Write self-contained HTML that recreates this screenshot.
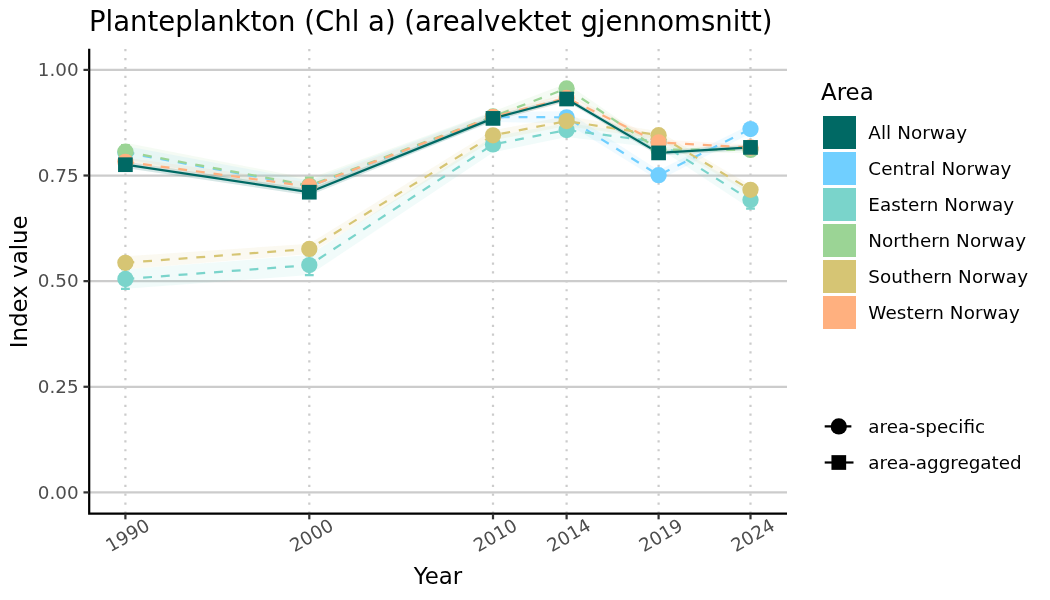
<!DOCTYPE html>
<html lang="en"><head><meta charset="utf-8">
<title>Planteplankton (Chl a) (arealvektet gjennomsnitt)</title>
<style>
html,body{margin:0;padding:0;background:#fff;}
body{width:1050px;height:600px;overflow:hidden;}
svg{display:block;}
text{font-family:"DejaVu Sans","Liberation Sans",sans-serif;}
.tick{font-size:18.33px;fill:#4d4d4d;}
.leg{font-size:18.33px;fill:#000;}
.ls{letter-spacing:0.07px;}
.axt{font-size:22.9px;fill:#000;}
.ttl{font-size:27.5px;fill:#000;}
</style></head><body>
<svg width="1050" height="600" viewBox="0 0 1050 600">
<rect x="0" y="0" width="1050" height="600" fill="#ffffff"/>
<g id="grid">
<line x1="125.40" y1="513.60" x2="125.40" y2="48.70" stroke="#cccccc" stroke-width="2.223" stroke-dasharray="2.22 6.67" stroke-dashoffset="0"/>
<line x1="309.30" y1="513.60" x2="309.30" y2="48.70" stroke="#cccccc" stroke-width="2.223" stroke-dasharray="2.22 6.67" stroke-dashoffset="0"/>
<line x1="493.00" y1="513.60" x2="493.00" y2="48.70" stroke="#cccccc" stroke-width="2.223" stroke-dasharray="2.22 6.67" stroke-dashoffset="0"/>
<line x1="566.60" y1="513.60" x2="566.60" y2="48.70" stroke="#cccccc" stroke-width="2.223" stroke-dasharray="2.22 6.67" stroke-dashoffset="0"/>
<line x1="658.60" y1="513.60" x2="658.60" y2="48.70" stroke="#cccccc" stroke-width="2.223" stroke-dasharray="2.22 6.67" stroke-dashoffset="0"/>
<line x1="750.50" y1="513.60" x2="750.50" y2="48.70" stroke="#cccccc" stroke-width="2.223" stroke-dasharray="2.22 6.67" stroke-dashoffset="0"/>
<line x1="89.20" y1="492.40" x2="787.00" y2="492.40" stroke="#cccccc" stroke-width="2.223"/>
<line x1="89.20" y1="386.77" x2="787.00" y2="386.77" stroke="#cccccc" stroke-width="2.223"/>
<line x1="89.20" y1="281.15" x2="787.00" y2="281.15" stroke="#cccccc" stroke-width="2.223"/>
<line x1="89.20" y1="175.52" x2="787.00" y2="175.52" stroke="#cccccc" stroke-width="2.223"/>
<line x1="89.20" y1="69.90" x2="787.00" y2="69.90" stroke="#cccccc" stroke-width="2.223"/>
</g>
<g id="ribbons">
<polygon points="125.4,146.1 309.3,180.4 493.0,112.0 566.6,111.3 658.6,170.2 750.5,124.6 750.5,133.6 658.6,180.2 566.6,123.3 493.0,122.0 309.3,192.4 125.4,159.1" fill="#70CFFF" fill-opacity="0.1"/>
<polygon points="125.4,269.2 309.3,255.1 493.0,136.4 566.6,123.0 658.6,136.0 750.5,191.5 750.5,208.7 658.6,148.0 566.6,137.0 493.0,152.4 309.3,275.1 125.4,288.8" fill="#7AD4CB" fill-opacity="0.1"/>
<polygon points="125.4,142.7 309.3,178.6 493.0,111.5 566.6,83.5 658.6,146.5 750.5,146.9 750.5,152.9 658.6,152.5 566.6,93.5 493.0,121.5 309.3,192.6 125.4,160.7" fill="#9BD495" fill-opacity="0.1"/>
<polygon points="125.4,256.3 309.3,243.8 493.0,130.3 566.6,116.1 658.6,131.2 750.5,185.3 750.5,194.3 658.6,139.2 566.6,126.1 493.0,140.3 309.3,254.1 125.4,269.3" fill="#D6C574" fill-opacity="0.1"/>
<polygon points="125.4,157.8 309.3,182.5 493.0,112.9 566.6,93.9 658.6,139.5 750.5,144.5 750.5,150.5 658.6,145.5 566.6,101.9 493.0,120.9 309.3,190.5 125.4,165.8" fill="#FFB07F" fill-opacity="0.1"/>
<polygon points="125.4,161.5 309.3,189.0 493.0,115.8 566.6,96.4 658.6,150.3 750.5,144.8 750.5,150.0 658.6,155.5 566.6,101.6 493.0,121.0 309.3,195.4 125.4,167.9" fill="#006964" fill-opacity="0.16"/>
</g>
<g id="lines" fill="none">
<polyline points="125.4,152.6 309.3,186.4 493.0,117.0 566.6,117.3 658.6,175.2 750.5,129.1" stroke="#70CFFF" stroke-width="2.223" stroke-dasharray="8.89 8.89" stroke-linejoin="round"/>
<polyline points="125.4,279.0 309.3,265.1 493.0,144.4 566.6,130.0 658.6,142.0 750.5,200.1" stroke="#7AD4CB" stroke-width="2.223" stroke-dasharray="8.89 8.89" stroke-linejoin="round"/>
<polyline points="125.4,151.7 309.3,185.6 493.0,116.5 566.6,88.5 658.6,149.5 750.5,149.9" stroke="#9BD495" stroke-width="2.223" stroke-dasharray="8.89 8.89" stroke-linejoin="round"/>
<polyline points="125.4,262.8 309.3,248.9 493.0,135.3 566.6,121.1 658.6,135.2 750.5,189.8" stroke="#D6C574" stroke-width="2.223" stroke-dasharray="8.89 8.89" stroke-linejoin="round"/>
<polyline points="125.4,161.8 309.3,186.5 493.0,116.9 566.6,97.9 658.6,142.5 750.5,147.5" stroke="#FFB07F" stroke-width="2.223" stroke-dasharray="8.89 8.89" stroke-linejoin="round"/>
<polyline points="125.4,164.7 309.3,192.2 493.0,118.4 566.6,99.0 658.6,152.9 750.5,147.4" stroke="#006964" stroke-width="2.223" stroke-linejoin="round"/>
</g>
<g id="errorbars">
<path d="M121.0,147.6H129.8M125.4,147.6V157.6M121.0,157.6H129.8" stroke="#70CFFF" stroke-width="2.223" fill="none"/>
<path d="M304.9,181.4H313.7M309.3,181.4V191.4M304.9,191.4H313.7" stroke="#70CFFF" stroke-width="2.223" fill="none"/>
<path d="M488.6,112.0H497.4M493.0,112.0V122.0M488.6,122.0H497.4" stroke="#70CFFF" stroke-width="2.223" fill="none"/>
<path d="M562.2,112.3H571.0M566.6,112.3V122.3M562.2,122.3H571.0" stroke="#70CFFF" stroke-width="2.223" fill="none"/>
<path d="M654.2,170.2H663.0M658.6,170.2V180.2M654.2,180.2H663.0" stroke="#70CFFF" stroke-width="2.223" fill="none"/>
<path d="M746.1,124.1H754.9M750.5,124.1V134.1M746.1,134.1H754.9" stroke="#70CFFF" stroke-width="2.223" fill="none"/>
<path d="M121.0,269.2H129.8M125.4,269.2V288.8M121.0,288.8H129.8" stroke="#7AD4CB" stroke-width="2.223" fill="none"/>
<path d="M304.9,255.1H313.7M309.3,255.1V275.1M304.9,275.1H313.7" stroke="#7AD4CB" stroke-width="2.223" fill="none"/>
<path d="M488.6,139.4H497.4M493.0,139.4V149.4M488.6,149.4H497.4" stroke="#7AD4CB" stroke-width="2.223" fill="none"/>
<path d="M562.2,125.0H571.0M566.6,125.0V135.0M562.2,135.0H571.0" stroke="#7AD4CB" stroke-width="2.223" fill="none"/>
<path d="M654.2,137.0H663.0M658.6,137.0V147.0M654.2,147.0H663.0" stroke="#7AD4CB" stroke-width="2.223" fill="none"/>
<path d="M746.1,191.5H754.9M750.5,191.5V208.7M746.1,208.7H754.9" stroke="#7AD4CB" stroke-width="2.223" fill="none"/>
<path d="M121.0,145.2H129.8M125.4,145.2V158.2M121.0,158.2H129.8" stroke="#9BD495" stroke-width="2.223" fill="none"/>
<path d="M304.9,177.6H313.7M309.3,177.6V193.6M304.9,193.6H313.7" stroke="#9BD495" stroke-width="2.223" fill="none"/>
<path d="M488.6,111.5H497.4M493.0,111.5V121.5M488.6,121.5H497.4" stroke="#9BD495" stroke-width="2.223" fill="none"/>
<path d="M562.2,83.5H571.0M566.6,83.5V93.5M562.2,93.5H571.0" stroke="#9BD495" stroke-width="2.223" fill="none"/>
<path d="M654.2,144.5H663.0M658.6,144.5V154.5M654.2,154.5H663.0" stroke="#9BD495" stroke-width="2.223" fill="none"/>
<path d="M746.1,144.9H754.9M750.5,144.9V154.9M746.1,154.9H754.9" stroke="#9BD495" stroke-width="2.223" fill="none"/>
<path d="M121.0,257.8H129.8M125.4,257.8V267.8M121.0,267.8H129.8" stroke="#D6C574" stroke-width="2.223" fill="none"/>
<path d="M304.9,243.9H313.7M309.3,243.9V253.9M304.9,253.9H313.7" stroke="#D6C574" stroke-width="2.223" fill="none"/>
<path d="M488.6,130.3H497.4M493.0,130.3V140.3M488.6,140.3H497.4" stroke="#D6C574" stroke-width="2.223" fill="none"/>
<path d="M562.2,116.1H571.0M566.6,116.1V126.1M562.2,126.1H571.0" stroke="#D6C574" stroke-width="2.223" fill="none"/>
<path d="M654.2,130.2H663.0M658.6,130.2V140.2M654.2,140.2H663.0" stroke="#D6C574" stroke-width="2.223" fill="none"/>
<path d="M746.1,184.8H754.9M750.5,184.8V194.8M746.1,194.8H754.9" stroke="#D6C574" stroke-width="2.223" fill="none"/>
<path d="M121.0,157.8H129.8M125.4,157.8V165.8M121.0,165.8H129.8" stroke="#FFB07F" stroke-width="2.223" fill="none"/>
<path d="M304.9,182.5H313.7M309.3,182.5V190.5M304.9,190.5H313.7" stroke="#FFB07F" stroke-width="2.223" fill="none"/>
<path d="M488.6,112.9H497.4M493.0,112.9V120.9M488.6,120.9H497.4" stroke="#FFB07F" stroke-width="2.223" fill="none"/>
<path d="M562.2,93.9H571.0M566.6,93.9V101.9M562.2,101.9H571.0" stroke="#FFB07F" stroke-width="2.223" fill="none"/>
<path d="M654.2,137.5H663.0M658.6,137.5V147.5M654.2,147.5H663.0" stroke="#FFB07F" stroke-width="2.223" fill="none"/>
<path d="M746.1,142.5H754.9M750.5,142.5V152.5M746.1,152.5H754.9" stroke="#FFB07F" stroke-width="2.223" fill="none"/>
<path d="M121.0,161.7H129.8M125.4,161.7V167.7M121.0,167.7H129.8" stroke="#006964" stroke-width="2.223" fill="none"/>
<path d="M304.9,189.2H313.7M309.3,189.2V195.2M304.9,195.2H313.7" stroke="#006964" stroke-width="2.223" fill="none"/>
<path d="M488.6,115.4H497.4M493.0,115.4V121.4M488.6,121.4H497.4" stroke="#006964" stroke-width="2.223" fill="none"/>
<path d="M562.2,96.0H571.0M566.6,96.0V102.0M562.2,102.0H571.0" stroke="#006964" stroke-width="2.223" fill="none"/>
<path d="M654.2,149.9H663.0M658.6,149.9V155.9M654.2,155.9H663.0" stroke="#006964" stroke-width="2.223" fill="none"/>
<path d="M746.1,144.4H754.9M750.5,144.4V150.4M746.1,150.4H754.9" stroke="#006964" stroke-width="2.223" fill="none"/>
</g>
<g id="points">
<circle cx="125.40" cy="152.60" r="8.15" fill="#70CFFF"/>
<circle cx="309.30" cy="186.40" r="8.15" fill="#70CFFF"/>
<circle cx="493.00" cy="117.00" r="8.15" fill="#70CFFF"/>
<circle cx="566.60" cy="117.30" r="8.15" fill="#70CFFF"/>
<circle cx="658.60" cy="175.20" r="8.15" fill="#70CFFF"/>
<circle cx="750.50" cy="129.10" r="8.15" fill="#70CFFF"/>
<circle cx="125.40" cy="279.00" r="8.15" fill="#7AD4CB"/>
<circle cx="309.30" cy="265.10" r="8.15" fill="#7AD4CB"/>
<circle cx="493.00" cy="144.40" r="8.15" fill="#7AD4CB"/>
<circle cx="566.60" cy="130.00" r="8.15" fill="#7AD4CB"/>
<circle cx="658.60" cy="142.00" r="8.15" fill="#7AD4CB"/>
<circle cx="750.50" cy="200.10" r="8.15" fill="#7AD4CB"/>
<circle cx="125.40" cy="151.70" r="8.15" fill="#9BD495"/>
<circle cx="309.30" cy="185.60" r="8.15" fill="#9BD495"/>
<circle cx="493.00" cy="116.50" r="8.15" fill="#9BD495"/>
<circle cx="566.60" cy="88.50" r="8.15" fill="#9BD495"/>
<circle cx="658.60" cy="149.50" r="8.15" fill="#9BD495"/>
<circle cx="750.50" cy="149.90" r="8.15" fill="#9BD495"/>
<circle cx="125.40" cy="262.80" r="8.15" fill="#D6C574"/>
<circle cx="309.30" cy="248.95" r="8.15" fill="#D6C574"/>
<circle cx="493.00" cy="135.35" r="8.15" fill="#D6C574"/>
<circle cx="566.60" cy="121.10" r="8.15" fill="#D6C574"/>
<circle cx="658.60" cy="135.20" r="8.15" fill="#D6C574"/>
<circle cx="750.50" cy="189.80" r="8.15" fill="#D6C574"/>
<circle cx="125.40" cy="161.80" r="8.15" fill="#FFB07F"/>
<circle cx="309.30" cy="186.50" r="8.15" fill="#FFB07F"/>
<circle cx="493.00" cy="116.90" r="8.15" fill="#FFB07F"/>
<circle cx="566.60" cy="97.90" r="8.15" fill="#FFB07F"/>
<circle cx="658.60" cy="142.50" r="8.15" fill="#FFB07F"/>
<circle cx="750.50" cy="147.50" r="8.15" fill="#FFB07F"/>
<rect x="118.05" y="157.35" width="14.7" height="14.7" fill="#006964"/>
<rect x="301.95" y="184.85" width="14.7" height="14.7" fill="#006964"/>
<rect x="485.65" y="111.05" width="14.7" height="14.7" fill="#006964"/>
<rect x="559.25" y="91.65" width="14.7" height="14.7" fill="#006964"/>
<rect x="651.25" y="145.55" width="14.7" height="14.7" fill="#006964"/>
<rect x="743.15" y="140.05" width="14.7" height="14.7" fill="#006964"/>
</g>
<g id="axes">
<path d="M89.20,48.70V513.60H787.00" fill="none" stroke="#000" stroke-width="2.223" stroke-linejoin="miter"/>
<line x1="83.47" y1="492.40" x2="89.20" y2="492.40" stroke="#333" stroke-width="2.223"/>
<text class="tick" x="78.6" y="498.70" text-anchor="end">0.00</text>
<line x1="83.47" y1="386.77" x2="89.20" y2="386.77" stroke="#333" stroke-width="2.223"/>
<text class="tick" x="78.6" y="393.07" text-anchor="end">0.25</text>
<line x1="83.47" y1="281.15" x2="89.20" y2="281.15" stroke="#333" stroke-width="2.223"/>
<text class="tick" x="78.6" y="287.45" text-anchor="end">0.50</text>
<line x1="83.47" y1="175.52" x2="89.20" y2="175.52" stroke="#333" stroke-width="2.223"/>
<text class="tick" x="78.6" y="181.82" text-anchor="end">0.75</text>
<line x1="83.47" y1="69.90" x2="89.20" y2="69.90" stroke="#333" stroke-width="2.223"/>
<text class="tick" x="78.6" y="76.20" text-anchor="end">1.00</text>
<line x1="125.40" y1="513.60" x2="125.40" y2="519.33" stroke="#333" stroke-width="2.223"/>
<text class="tick" text-anchor="middle" transform="translate(127.50,535.10) rotate(-30)" x="0" y="6.6">1990</text>
<line x1="309.30" y1="513.60" x2="309.30" y2="519.33" stroke="#333" stroke-width="2.223"/>
<text class="tick" text-anchor="middle" transform="translate(311.40,535.10) rotate(-30)" x="0" y="6.6">2000</text>
<line x1="493.00" y1="513.60" x2="493.00" y2="519.33" stroke="#333" stroke-width="2.223"/>
<text class="tick" text-anchor="middle" transform="translate(495.10,535.10) rotate(-30)" x="0" y="6.6">2010</text>
<line x1="566.60" y1="513.60" x2="566.60" y2="519.33" stroke="#333" stroke-width="2.223"/>
<text class="tick" text-anchor="middle" transform="translate(568.70,535.10) rotate(-30)" x="0" y="6.6">2014</text>
<line x1="658.60" y1="513.60" x2="658.60" y2="519.33" stroke="#333" stroke-width="2.223"/>
<text class="tick" text-anchor="middle" transform="translate(660.70,535.10) rotate(-30)" x="0" y="6.6">2019</text>
<line x1="750.50" y1="513.60" x2="750.50" y2="519.33" stroke="#333" stroke-width="2.223"/>
<text class="tick" text-anchor="middle" transform="translate(752.60,535.10) rotate(-30)" x="0" y="6.6">2024</text>
</g>
<text class="ttl" x="89" y="31.0">Planteplankton (Chl a) (arealvektet gjennomsnitt)</text>
<text class="axt" x="438" y="584" text-anchor="middle">Year</text>
<text class="axt" text-anchor="middle" transform="translate(27,281.8) rotate(-90)">Index value</text>
<g id="legend-area">
<text class="axt" x="821.0" y="100">Area</text>
<rect x="823" y="116.0" width="33" height="33" fill="#006964"/>
<text class="leg ls" x="868.3" y="139.0">All Norway</text>
<rect x="823" y="152.0" width="33" height="33" fill="#70CFFF"/>
<text class="leg ls" x="868.3" y="175.0">Central Norway</text>
<rect x="823" y="188.0" width="33" height="33" fill="#7AD4CB"/>
<text class="leg ls" x="868.3" y="211.0">Eastern Norway</text>
<rect x="823" y="224.0" width="33" height="33" fill="#9BD495"/>
<text class="leg ls" x="868.3" y="247.0">Northern Norway</text>
<rect x="823" y="260.0" width="33" height="33" fill="#D6C574"/>
<text class="leg ls" x="868.3" y="283.0">Southern Norway</text>
<rect x="823" y="296.0" width="33" height="33" fill="#FFB07F"/>
<text class="leg ls" x="868.3" y="319.0">Western Norway</text>
</g>
<g id="legend-type">
<line x1="824.7" y1="426.4" x2="853.5" y2="426.4" stroke="#000" stroke-width="2.223" stroke-dasharray="8.89 8.89"/>
<circle cx="838.8" cy="426.4" r="8.15" fill="#000"/>
<line x1="824.7" y1="462.5" x2="853.5" y2="462.5" stroke="#000" stroke-width="2.223"/>
<rect x="831.45" y="455.15" width="14.7" height="14.7" fill="#000"/>
<text class="leg" x="868.3" y="433.1">area-specific</text>
<text class="leg" x="868.3" y="469.2">area-aggregated</text>
</g>
</svg></body></html>
